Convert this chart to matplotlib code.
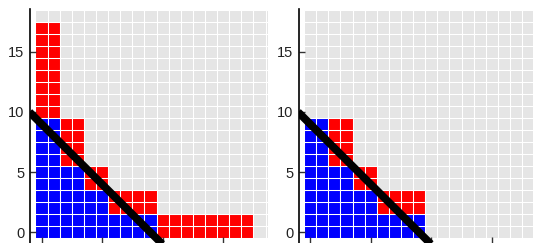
import numpy as np
import matplotlib
matplotlib.use("Agg")
import matplotlib.pyplot as plt
from matplotlib.colors import ListedColormap

# data: per-column stacked cell counts
left_blue = [10, 10, 6, 6, 4, 4, 2, 2, 2, 2, 0, 0, 0, 0, 0, 0, 0, 0]
left_red = [8, 8, 4, 4, 2, 2, 2, 2, 2, 2, 2, 2, 2, 2, 2, 2, 2, 2]
right_blue = [10, 10, 6, 6, 4, 4, 2, 2, 2, 2, 0, 0, 0, 0, 0, 0, 0, 0]
right_red = [0, 0, 4, 4, 2, 2, 2, 2, 2, 2, 0, 0, 0, 0, 0, 0, 0, 0]
line_x = [-1.0, 10.5]
line_y = [10.0, -1.5]
yticks = [0, 5, 10, 15]
xticks = [0, 5, 10, 15]

n_cols, n_rows = 20, 19
cmap = ListedColormap(["#e5e5e5", "#0000ff", "#ff0000"])

W, H = 533, 243
fig = plt.figure(figsize=(W / 100, H / 100), dpi=100)

def px_axes(x0, x1, y0, y1):
    return fig.add_axes([x0 / W, 1 - y1 / H, (x1 - x0) / W, (y1 - y0) / H])

def draw(ax, blue, red, xlim):
    grid = np.zeros((n_rows, n_cols))
    for c, (b, r) in enumerate(zip(blue, red)):
        grid[:b, c] = 1
        grid[b:b + r, c] = 2
    xe = np.arange(n_cols + 1) - 0.5
    ye = np.arange(n_rows + 1) - 0.5
    ax.pcolormesh(xe, ye, grid, cmap=cmap, vmin=0, vmax=2,
                  edgecolors="white", linewidth=0.75, antialiased=True)
    ax.plot(line_x, line_y, color="black", lw=5.6, solid_capstyle="butt")
    ax.set_xlim(*xlim)
    ax.set_ylim(-0.88, 18.55)
    for s in ["top", "right", "bottom"]:
        ax.spines[s].set_visible(False)
    ax.spines["left"].set_linewidth(1.2)
    ax.set_yticks(yticks)
    ax.set_xticks(xticks)
    ax.set_xticklabels([])
    ax.tick_params(axis="both", direction="in", length=4, width=1, color="#333333")
    ax.tick_params(axis="y", labelsize=10.5, labelcolor="#222222", pad=4)
    for lab in ax.get_yticklabels():
        lab.set_family("Liberation Sans")

axL = px_axes(30, 268, 9, 243)
draw(axL, left_blue, left_red, (-0.95, 18.7))
axR = px_axes(299, 533, 9, 243)
draw(axR, right_blue, right_red, (-0.92, 18.4))

fig.savefig("out.png", dpi=100)
